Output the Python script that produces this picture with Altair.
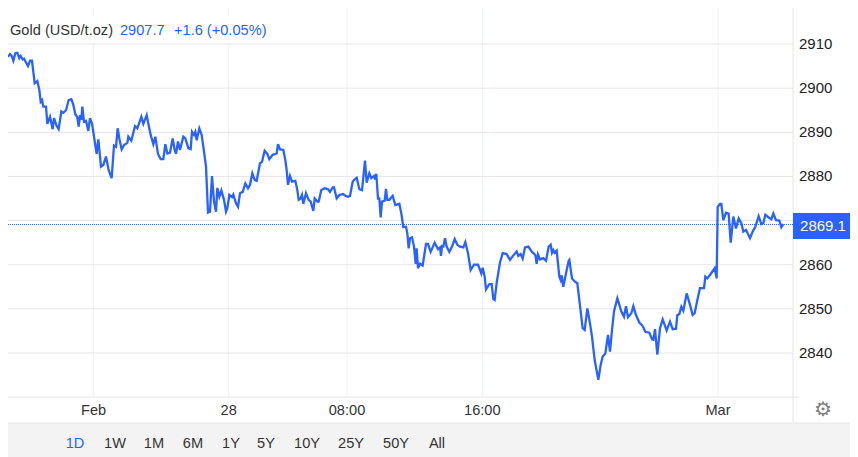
import altair as alt
import pandas as pd

bars = [0,6,11,16,22,28,34,38,44,48,54,60,66,72,76,80,88,94,98,102,106,114,118,126,134,138,146,152,160,166,174,182,190,196,202,208,212,216,220,223,228,234,241,246,252,258,266,271,279,286,294,302,311,318,324,329,334,341,348,358,361,370,381,388,400,406,416,422,428,436,442,450,458,466,472,478,486,494,500,504,510,516,526,532,541,548,552,558,562,566,574,581,588,594,600,606,612,618,624,628,634,640,648,654,658,664,672,676,684,690,696,704,712,720,726,733,740,746,756,762,770,778,784,794,806,810,816,826,832,836,840,
846,852,862,868,872,878,882,886,894,902,908,916,920,928,932,940,950,960,966,974,978,986,994,1006,1012,1020,1026,1034,1038,1046,1054,1062,1071,1076,1084,1090,1098,1101,1105,1110,1114,1118,1122,1130,1134,1138,1144,1154,1162,1174,1180,1186,1194,1198,1202,1206,1212,1218,1223,1226,1230,1236,1244,1254,1260,1268,1280,1290,1296,1299,1302,1306,1311,1316,1324,1332,1340,1348,1356,1366,1372,1380,1388,1398,1410,1420,1424,1430,1434,1444,1451,1456,1460,1466,1476,1484,1496,1506,1516,1526,1531,1538,1544,1551,1561,1572,1582,1586,1590,1596,1606,1614,1622,1628,1632,1636,1640,1646,1654,1658,1661,1666,1676,1682,
1684,1692,1700,1708,1714,1724,1730,1738,1746,1752,1760,1771,1778,1784,1792,1800,1806,1812,1818,1828,1834,1840,1848,1854,1860,1870,1876,1884,1894,1904,1912,1924,1932,1936,1941,1948,1956,1964,1976,1986,1994,2004,2008,2014,2020,2026,2036,2046,2054,2060,2068,2076,2088,2092,2098,2108,2120,2126,2129,2136,2140,2146,2154,2162,2168,2176,2184,2192,2200,2206,2214,2226,2234,2242,2252,2260,2266,2272,2282,2290,2296,2304,2314,2320,2326]
prices = [2907.1,2907.7,2907.3,2906.2,2907.9,2908.0,2906.8,2907.3,2906.5,2906.7,2905.8,2905.0,2906.2,2906.2,2903.7,2901.1,2901.6,2899.6,2896.9,2897.3,2895.8,2895.8,2891.9,2893.5,2890.7,2893.2,2891.4,2890.7,2894.7,2894.4,2895.0,2897.3,2897.5,2896.2,2894.1,2893.4,2891.3,2893.9,2892.8,2895.8,2892.4,2892.6,2890.3,2893.2,2892.0,2889.0,2885.1,2888.4,2882.2,2882.6,2884.5,2881.4,2879.6,2887.0,2886.7,2890.9,2888.6,2886.1,2887.1,2887.6,2889.0,2888.1,2891.4,2890.9,2893.5,2891.9,2893.9,2891.6,2889.4,2887.3,2889.0,2885.1,2883.9,2883.9,2887.3,2885.2,2885.4,2888.6,2886.0,2885.1,2887.9,2886.0,2889.0,2888.6,2886.4,2886.2,2890.1,2889.4,2890.1,2888.2,2890.9,2889.4,2885.6,2882.2,2871.8,2872.0,2880.1,2874.3,2872.0,2877.4,2875.4,2876.8,2874.7,2872.0,2872.8,2875.8,2875.3,2875.9,2873.9,2873.1,2876.2,2876.5,2878.4,2877.3,2878.1,2880.7,2879.2,2879.0,2883.0,2883.3,2885.8,2885.1,2883.9,2884.9,2885.2,2887.3,2886.1,2886.0,2883.7,2881.4,2878.1,
2880.1,2878.8,2879.0,2876.9,2874.7,2875.0,2875.8,2873.8,2876.2,2874.7,2874.3,2872.2,2875.0,2874.3,2874.3,2876.9,2877.3,2877.1,2876.5,2877.5,2877.5,2875.0,2875.8,2876.0,2875.6,2875.4,2875.6,2878.8,2879.2,2879.7,2877.1,2876.9,2883.6,2878.6,2880.7,2879.6,2880.1,2879.3,2880.6,2875.0,2875.0,2870.7,2874.3,2874.5,2877.2,2874.7,2874.7,2875.6,2873.5,2873.8,2871.6,2868.5,2868.6,2867.1,2863.7,2866.0,2866.2,2864.1,2860.2,2863.7,2859.2,2860.2,2859.8,2864.7,2864.7,2862.9,2865.0,2863.5,2863.9,2862.0,2864.2,2864.1,2866.0,2864.1,2862.9,2864.1,2865.8,2864.5,2864.1,2863.9,2865.1,2862.6,2858.8,2860.0,2860.0,2858.0,2859.3,2857.3,2854.4,2855.6,2855.6,2852.2,2852.0,2855.9,2860.5,2862.6,2862.4,2861.1,2862.1,2863.0,2862.0,2862.4,2861.4,2863.9,2864.1,2862.9,2862.2,2860.2,2862.3,2861.2,2861.5,2860.9,2864.1,2864.5,2862.7,2863.3,2862.7,2863.2,2857.3,2856.5,2857.6,2855.0,2858.8,2860.9,
2861.1,2856.9,2856.2,2855.8,2852.0,2845.6,2845.2,2850.1,2846.7,2843.7,2838.4,2833.9,2837.3,2839.2,2839.9,2844.1,2840.3,2845.2,2849.4,2852.4,2850.9,2849.4,2848.2,2850.6,2848.1,2849.0,2850.6,2848.6,2846.9,2846.1,2844.8,2844.6,2843.1,2843.0,2845.4,2839.6,2845.6,2847.6,2845.1,2847.1,2845.4,2845.5,2848.6,2848.8,2850.5,2849.6,2853.5,2850.9,2848.6,2849.0,2852.0,2854.7,2854.7,2857.3,2856.9,2857.9,2859.2,2856.9,2873.1,2873.8,2873.8,2870.1,2871.8,2871.6,2865.0,2870.9,2868.2,2870.5,2869.4,2867.5,2867.9,2866.0,2867.5,2868.6,2871.0,2869.2,2869.4,2871.3,2870.7,2870.3,2871.6,2870.1,2870.0,2868.5,2869.2]

y_ticks = [2910, 2900, 2890, 2880, 2870, 2860, 2850, 2840]
y_labels = [2910, 2900, 2890, 2880, 2860, 2850, 2840]
x_tick_bars = [257, 662, 1017, 1423, 2130]
x_tick_labels = ["Feb", "28", "08:00", "16:00", "Mar"]
last_price = 2869.1
ranges = ["1D", "1W", "1M", "6M", "1Y", "5Y", "10Y", "25Y", "50Y", "All"]
range_x = [67, 107, 146, 185, 223, 258, 299, 343, 388, 429]

BLUE = "#2962ff"
GRID = "#e6e6e6"
VGRID = "#eef2f6"
FONT = "Liberation Sans"
W, H = 842, 449

xs = alt.Scale(domain=[0, W * 3], range=[0, W])
ys = alt.Scale(domain=[2910 + 36 / 4.414, 2910 - (H - 36) / 4.414], range=[0, H])
X = lambda f: alt.X(f, type="quantitative", scale=xs, axis=None)
Y = lambda f: alt.Y(f, type="quantitative", scale=ys, axis=None)

line_df = pd.DataFrame({"bar": bars, "price": prices})
ygrid_df = pd.DataFrame({"price": y_ticks})
ylab_df = pd.DataFrame({"price": y_labels, "label": [str(v) for v in y_labels]})
xt_df = pd.DataFrame({"bar": x_tick_bars, "label": x_tick_labels})
last_df = pd.DataFrame({"price": [last_price], "label": [f"{last_price:.1f}"]})

def box(x, x2, y, y2, color):
    return alt.Chart(last_df).mark_rect(color=color).encode(
        x=alt.value(x), x2=alt.value(x2), y=alt.value(y), y2=alt.value(y2))

def txt(s, x, y, color="#333333", size=14.6, align="left"):
    return alt.Chart(last_df).mark_text(text=s, font=FONT, fontSize=size, color=color,
                                        align=align, baseline="middle").encode(
        x=alt.value(x), y=alt.value(y))

layers = [
    alt.Chart(xt_df).mark_rule(color=VGRID, strokeWidth=1).encode(
        x=X("bar"), y=alt.value(0), y2=alt.value(389)),
    alt.Chart(ygrid_df).mark_rule(color=GRID, strokeWidth=1).encode(
        y=Y("price"), x=alt.value(0), x2=alt.value(785)),
    box(0, 300, 7, 35, "#ffffff"),
    alt.Chart(last_df).mark_rule(color=GRID, strokeWidth=1).encode(
        x=alt.value(785), y=alt.value(0), y2=alt.value(415)),
    alt.Chart(last_df).mark_rule(color=GRID, strokeWidth=1).encode(
        y=alt.value(389), x=alt.value(0), x2=alt.value(791)),
    alt.Chart(last_df).mark_rule(color=BLUE, strokeWidth=1, strokeDash=[1, 1]).encode(
        y=Y("price"), x=alt.value(0), x2=alt.value(785)),
    alt.Chart(line_df).mark_line(color=BLUE, strokeWidth=2.3, interpolate="linear").encode(
        x=X("bar"), y=Y("price"), order="bar"),
    box(785, 842, 205, 231, BLUE),
    alt.Chart(last_df).mark_text(font=FONT, fontSize=15, color="#ffffff", align="center",
                                 baseline="middle", dy=1).encode(
        x=alt.value(815), y=Y("price"), text="label"),
    alt.Chart(ylab_df).mark_text(font=FONT, fontSize=15, color="#222222", align="left",
                                 baseline="middle").encode(
        x=alt.value(791), y=Y("price"), text="label"),
    alt.Chart(xt_df).mark_text(font=FONT, fontSize=14.6, color="#333333", align="center",
                               baseline="middle").encode(
        x=X("bar"), y=alt.value(403), text="label"),
    txt("\u2699", 815, 402, color="#808080", size=20, align="center"),
    box(0, W, 415, H, "#f3f3f3"),
    alt.Chart(last_df).mark_rule(color=GRID, strokeWidth=1).encode(
        y=alt.value(415), x=alt.value(0), x2=alt.value(W)),
    txt("Gold (USD/t.oz)", 2, 23),
    txt("2907.7", 112, 23, color=BLUE),
    txt("+1.6 (+0.05%)", 166, 23, color=BLUE),
]
for i, (r, x) in enumerate(zip(ranges, range_x)):
    layers.append(txt(r, x, 436, color=BLUE if i == 0 else "#333333", align="center"))

chart = alt.layer(*layers).properties(
    width=W, height=H, padding=0, autosize=alt.AutoSizeParams(type="none"), background="white"
).configure_view(stroke=None)

chart.save("out.html", embed_options={"renderer": "svg", "actions": False})
